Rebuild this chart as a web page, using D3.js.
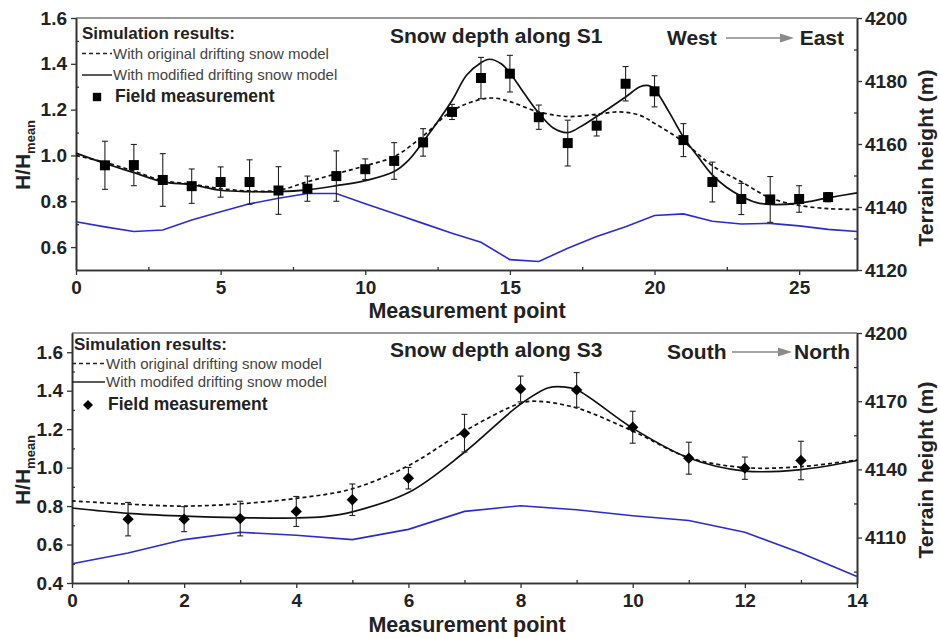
<!DOCTYPE html>
<html>
<head>
<meta charset="utf-8">
<script src="https://cdn.jsdelivr.net/npm/d3@7"></script>
<style>
  body { margin: 0; background: #fff; }
  svg { display: block; font-family: "Liberation Sans", Arial, sans-serif; }
</style>
</head>
<body>
<svg id="chart" width="940" height="639"></svg>
<script>
// ---- Transect S1 (west -> east) ----
const s1Points   = [1,2,3,4,5,6,7,8,9,10,11,12,13,14,15,16,17,18,19,20,21,22,23,24,25,26];
const s1Measured = [0.957,0.958,0.893,0.866,0.884,0.884,0.847,0.855,0.910,0.940,0.976,1.057,1.190,1.338,1.357,1.167,1.054,1.130,1.313,1.280,1.067,0.884,0.810,0.808,0.810,0.818];
const s1Error    = [0.105,0.090,0.115,0.075,0.066,0.097,0.104,0.055,0.110,0.045,0.080,0.060,0.033,0.090,0.080,0.053,0.100,0.045,0.075,0.068,0.072,0.087,0.068,0.100,0.058,0.020];
const s1OrigX    = [0,1,2,3,4,5,6,7,8,9,10,11,12,13,14,14.5,15,16,17,18,18.8,19.5,20,21,22,23,24,25,26,27];
const s1Orig     = [1.000,0.970,0.932,0.890,0.875,0.855,0.845,0.848,0.885,0.920,0.955,0.995,1.085,1.195,1.245,1.250,1.235,1.190,1.170,1.180,1.190,1.175,1.140,1.060,0.955,0.885,0.815,0.782,0.768,0.764];
const s1ModX     = [0,1,2,3,4,5,6,7,8,9,10,11,11.5,12,13,13.5,14,14.3,14.7,15,15.5,16,16.5,17,17.5,18,19,19.5,19.8,20,20.5,21,21.5,22,22.5,23,23.5,24,25,26,27];
const s1Mod      = [1.010,0.965,0.925,0.885,0.872,0.848,0.842,0.842,0.850,0.868,0.890,0.930,0.980,1.060,1.240,1.350,1.405,1.420,1.400,1.360,1.270,1.185,1.120,1.100,1.130,1.170,1.255,1.300,1.305,1.290,1.190,1.080,0.995,0.915,0.860,0.822,0.795,0.786,0.792,0.815,0.837];
const s1TerrainX = [0,1,2,3,4,5,6,7,8,9,10,11,12,13,14,15,16,17,18,19,20,21,22,23,24,25,26,27];
const s1Terrain  = [4135.3,4133.7,4132.2,4132.7,4135.9,4138.5,4141.0,4142.8,4144.3,4144.3,4141.0,4137.9,4134.8,4131.7,4128.8,4123.3,4122.7,4126.9,4130.6,4133.7,4137.3,4137.8,4135.5,4134.6,4134.8,4134.0,4132.9,4132.2];
const s1XTicks   = [0,5,10,15,20,25];
const s1YTicks   = [0.6,0.8,1.0,1.2,1.4,1.6];
const s1TTicks   = [4120,4140,4160,4180,4200];

// ---- Transect S3 (south -> north) ----
const s3Points   = [1,2,3,4,5,6,7,8,9,10,11,12,13];
const s3Measured = [0.732,0.732,0.735,0.772,0.833,0.945,1.179,1.409,1.404,1.210,1.049,0.997,1.037];
const s3Error    = [0.087,0.065,0.090,0.078,0.082,0.056,0.098,0.067,0.090,0.083,0.083,0.058,0.100];
const s3OrigX    = [0,1,2,3,4,5,6,7,8,8.3,9,10,11,12,13,14];
const s3Orig     = [0.827,0.810,0.800,0.812,0.840,0.890,1.010,1.190,1.335,1.345,1.310,1.190,1.052,1.000,1.005,1.040];
const s3ModX     = [0,1,2,3,4,4.5,5,6,7,8,8.5,8.75,9,10,11,12,13,14];
const s3Mod      = [0.790,0.762,0.748,0.740,0.738,0.745,0.770,0.870,1.080,1.330,1.415,1.420,1.405,1.205,1.050,0.982,0.990,1.037];
const s3TerrainX = [0,1,2,3,4,5,6,7,8,9,10,11,12,13,14];
const s3Terrain  = [4098.5,4103.2,4109.1,4112.3,4111.0,4109.1,4113.6,4121.5,4124.0,4122.2,4119.6,4117.5,4112.3,4103.2,4092.9];
const s3XTicks   = [0,2,4,6,8,10,12,14];
const s3YTicks   = [0.4,0.6,0.8,1.0,1.2,1.4,1.6];
const s3TTicks   = [4110,4140,4170,4200];

const svg = d3.select("#chart");
const AXIS = "#333";
const TERRAIN = "#2b2bd2";

// square marker, or the same square turned 45 degrees for a diamond
function markerPath(kind, size) {
  return d3.symbol().type(d3.symbolSquare).size(size)();
}
function markerTransform(kind, cx, cy) {
  return kind === "square" ? `translate(${cx},${cy})` : `translate(${cx},${cy}) rotate(45)`;
}

function drawPanel(p) {
  const g = svg.append("g");
  const x = d3.scaleLinear().domain(p.xDomain).range([p.left, p.right]);
  const y = d3.scaleLinear().domain(p.yDomain).range([p.bottom, p.top]);
  const t = d3.scaleLinear().domain(p.tDomain).range([p.bottom, p.top]);

  // top border
  g.append("line").attr("x1", p.left).attr("x2", p.right).attr("y1", p.top).attr("y2", p.top)
    .attr("stroke", "#777").attr("stroke-width", 1.5);

  const styleAxis = (sel, labels) => {
    sel.select(".domain").attr("stroke", AXIS).attr("stroke-width", 1.6);
    sel.selectAll(".tick line").attr("stroke", AXIS).attr("stroke-width", 1.3);
    sel.selectAll("text").attr("font-size", 19).attr("font-weight", "bold").attr("fill", "#222");
    if (!labels) sel.selectAll("text").remove();
  };

  // minor ticks (inside)
  g.append("g").attr("transform", `translate(0,${p.bottom})`)
    .call(d3.axisBottom(x).tickValues(p.xMinor).tickSize(-3).tickSizeOuter(0).tickFormat(""))
    .call(s => styleAxis(s, false));
  g.append("g").attr("transform", `translate(${p.left},0)`)
    .call(d3.axisLeft(y).tickValues(p.yMinor).tickSize(-3).tickSizeOuter(0).tickFormat(""))
    .call(s => styleAxis(s, false));
  g.append("g").attr("transform", `translate(${p.right},0)`)
    .call(d3.axisRight(t).tickValues(p.tMinor).tickSize(-3).tickSizeOuter(0).tickFormat(""))
    .call(s => styleAxis(s, false));

  // major ticks (outside) with labels
  g.append("g").attr("transform", `translate(0,${p.bottom})`)
    .call(d3.axisBottom(x).tickValues(p.xTicks).tickSize(5).tickSizeOuter(0).tickPadding(6).tickFormat(d3.format("d")))
    .call(s => styleAxis(s, true));
  g.append("g").attr("transform", `translate(${p.left},0)`)
    .call(d3.axisLeft(y).tickValues(p.yTicks).tickSize(5).tickSizeOuter(0).tickPadding(4).tickFormat(d3.format(".1f")))
    .call(s => styleAxis(s, true));
  g.append("g").attr("transform", `translate(${p.right},0)`)
    .call(d3.axisRight(t).tickValues(p.tTicks).tickSize(5).tickSizeOuter(0).tickPadding(3).tickFormat(d3.format("d")))
    .call(s => styleAxis(s, true));

  // terrain profile (right axis)
  g.append("path")
    .datum(p.terrainX.map((v, i) => [v, p.terrain[i]]))
    .attr("fill", "none").attr("stroke", TERRAIN).attr("stroke-width", 1.6)
    .attr("d", d3.line().x(d => x(d[0])).y(d => t(d[1])));

  const smooth = d3.line().curve(d3.curveCatmullRom.alpha(0.5)).x(d => x(d[0])).y(d => y(d[1]));
  // original model (dashed)
  g.append("path")
    .datum(p.origX.map((v, i) => [v, p.orig[i]]))
    .attr("fill", "none").attr("stroke", "#111").attr("stroke-width", 1.7)
    .attr("stroke-dasharray", "4,3").attr("d", smooth);
  // modified model (solid)
  g.append("path")
    .datum(p.modX.map((v, i) => [v, p.mod[i]]))
    .attr("fill", "none").attr("stroke", "#111").attr("stroke-width", 1.7).attr("d", smooth);

  // error bars
  const eb = g.append("g").attr("stroke", "#222").attr("stroke-width", 1.1);
  p.points.forEach((px, i) => {
    const cx = x(px), y0 = y(p.meas[i] - p.err[i]), y1 = y(p.meas[i] + p.err[i]);
    eb.append("line").attr("x1", cx).attr("x2", cx).attr("y1", y0).attr("y2", y1);
    eb.append("line").attr("x1", cx - 3).attr("x2", cx + 3).attr("y1", y0).attr("y2", y0);
    eb.append("line").attr("x1", cx - 3).attr("x2", cx + 3).attr("y1", y1).attr("y2", y1);
  });

  // measurement markers
  const mSize = p.marker === "square" ? 100 : 64;
  g.selectAll(".m").data(p.points).join("path")
    .attr("transform", (d, i) => markerTransform(p.marker, x(d), y(p.meas[i])))
    .attr("d", markerPath(p.marker, mSize)).attr("fill", "#000");

  // legend
  const L = p.legend;
  g.append("text").attr("x", L.x).attr("y", L.y0).attr("font-size", 17).attr("font-weight", "bold")
    .attr("fill", "#222").text("Simulation results:");
  g.append("line").attr("x1", L.lx0).attr("x2", L.lx1).attr("y1", L.y1 - 5).attr("y2", L.y1 - 5)
    .attr("stroke", "#222").attr("stroke-width", 1.5).attr("stroke-dasharray", "4,3");
  g.append("text").attr("x", L.lx1 + 1).attr("y", L.y1).attr("font-size", 15).attr("fill", "#444")
    .text("With original drifting snow model");
  g.append("line").attr("x1", L.lx0).attr("x2", L.lx1).attr("y1", L.y2 - 5).attr("y2", L.y2 - 5)
    .attr("stroke", "#222").attr("stroke-width", 1.5);
  g.append("text").attr("x", L.lx1 + 1).attr("y", L.y2).attr("font-size", 15).attr("fill", "#444")
    .text(p.modLabel);
  g.append("path").attr("transform", markerTransform(p.marker, L.mx, L.y3 - 5))
    .attr("d", markerPath(p.marker, p.marker === "square" ? 70 : 50)).attr("fill", "#000");
  g.append("text").attr("x", L.tx).attr("y", L.y3).attr("font-size", 17.5).attr("font-weight", "bold")
    .attr("fill", "#222").text("Field measurement");

  // panel title
  g.append("text").attr("x", 390).attr("y", p.titleY).attr("font-size", 21).attr("font-weight", "bold")
    .attr("fill", "#222").text(p.title);

  // direction note with arrow
  const D = p.dir;
  g.append("text").attr("x", 667).attr("y", D.y).attr("font-size", 21).attr("font-weight", "bold")
    .attr("fill", "#222").text(D.from);
  g.append("text").attr("x", D.toEnd).attr("y", D.y).attr("text-anchor", "end").attr("font-size", 21)
    .attr("font-weight", "bold").attr("fill", "#222").text(D.to);
  const ay = D.y - 7;
  g.append("line").attr("x1", D.a0).attr("x2", D.a1 - 12).attr("y1", ay).attr("y2", ay)
    .attr("stroke", "#888").attr("stroke-width", 1.6);
  g.append("path").attr("d", `M${D.a1 - 14},${ay - 4.5}L${D.a1},${ay}L${D.a1 - 14},${ay + 4.5}Z`).attr("fill", "#8a8a8a");

  // axis titles
  g.append("text").attr("x", 467).attr("y", p.xTitleY).attr("text-anchor", "middle")
    .attr("font-size", 21.5).attr("font-weight", "bold").attr("fill", "#222").text("Measurement point");
  const yl = g.append("text").attr("transform", `translate(30,${p.yTitleC}) rotate(-90)`)
    .attr("text-anchor", "middle").attr("font-size", 21).attr("font-weight", "bold").attr("fill", "#222");
  yl.append("tspan").text("H/H");
  yl.append("tspan").attr("font-size", 13).attr("dy", 5).text("mean");
  g.append("text").attr("transform", `translate(933,${p.tTitleC}) rotate(-90)`)
    .attr("text-anchor", "middle").attr("font-size", 21).attr("font-weight", "bold").attr("fill", "#222")
    .text("Terrain height (m)");
}

drawPanel({
  left: 76, right: 857, top: 18, bottom: 270,
  xDomain: [0, 27], yDomain: [0.5, 1.6], tDomain: [4120, 4200],
  xTicks: s1XTicks, xMinor: [2.5,7.5,12.5,17.5,22.5],
  yTicks: s1YTicks, yMinor: [0.7,0.9,1.1,1.3,1.5],
  tTicks: s1TTicks, tMinor: [4130,4150,4170,4190],
  points: s1Points, meas: s1Measured, err: s1Error,
  origX: s1OrigX, orig: s1Orig, modX: s1ModX, mod: s1Mod,
  terrainX: s1TerrainX, terrain: s1Terrain,
  marker: "square", modLabel: "With modified drifting snow model",
  legend: { x: 82, y0: 39, lx0: 82, lx1: 112, y1: 58.5, y2: 80, y3: 102, mx: 97, tx: 115 },
  title: "Snow depth along S1", titleY: 43,
  dir: { from: "West", to: "East", toEnd: 844, y: 45, a0: 726, a1: 794 },
  xTitleY: 318, yTitleC: 155, tTitleC: 158
});

drawPanel({
  left: 72, right: 857, top: 333, bottom: 583,
  xDomain: [0, 14], yDomain: [0.4, 1.7], tDomain: [4090, 4200],
  xTicks: s3XTicks, xMinor: [1,3,5,7,9,11,13],
  yTicks: s3YTicks, yMinor: [0.5,0.7,0.9,1.1,1.3,1.5],
  tTicks: s3TTicks, tMinor: [4095,4125,4155,4185],
  points: s3Points, meas: s3Measured, err: s3Error,
  origX: s3OrigX, orig: s3Orig, modX: s3ModX, mod: s3Mod,
  terrainX: s3TerrainX, terrain: s3Terrain,
  marker: "diamond", modLabel: "With modifed drifting snow model",
  legend: { x: 74, y0: 350, lx0: 72, lx1: 105, y1: 368.5, y2: 387, y3: 410, mx: 88, tx: 108 },
  title: "Snow depth along S3", titleY: 357,
  dir: { from: "South", to: "North", toEnd: 850, y: 359, a0: 732, a1: 792 },
  xTitleY: 632, yTitleC: 470, tTitleC: 470
});
</script>
</body>
</html>
